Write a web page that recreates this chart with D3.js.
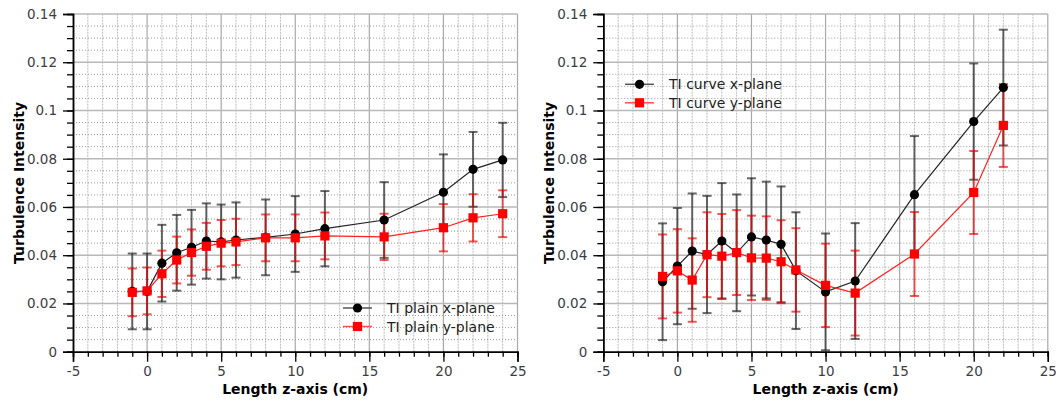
<!DOCTYPE html>
<html>
<head>
<meta charset="utf-8">
<script src="https://cdn.jsdelivr.net/npm/d3@7"></script>
<style>
  body { margin: 0; background: #fff; }
  svg { display: block; font-family: "DejaVu Sans", sans-serif; }
  .axis-title { font-size: 14px; font-weight: bold; fill: #000; }
  .legend-text { font-size: 14px; fill: #222; }
</style>
</head>
<body>
<div id="chart"></div>
<script>
/* === Turbulence intensity, plain vs curve (D3.js v7) === */

// z positions (cm)
var zPlain = [-1, 0, 1, 2, 3, 4, 5, 6, 8, 10, 12, 16, 20, 22, 24];
var zCurve = [-1, 0, 1, 2, 3, 4, 5, 6, 7, 8, 10, 12, 16, 20, 22];

// left panel: TI plain
var plainX    = [0.025, 0.025, 0.0367, 0.041, 0.0433, 0.0459, 0.0455, 0.0463, 0.0474, 0.0488, 0.051, 0.0546, 0.0661, 0.0756, 0.0795];
var plainXErr = [0.0157, 0.0157, 0.0159, 0.0157, 0.0155, 0.0156, 0.0155, 0.0156, 0.0157, 0.0157, 0.0156, 0.0157, 0.0157, 0.0155, 0.0154];
var plainY    = [0.0246, 0.0252, 0.0323, 0.038, 0.0411, 0.0437, 0.045, 0.0455, 0.0472, 0.0472, 0.048, 0.0476, 0.0514, 0.0555, 0.0572];
var plainYErr = [0.0099, 0.0097, 0.0096, 0.0097, 0.0096, 0.0097, 0.0096, 0.0096, 0.0097, 0.0097, 0.0097, 0.0096, 0.0098, 0.0098, 0.0097];

// right panel: TI curve
var curveX    = [0.029, 0.0355, 0.0417, 0.0403, 0.0459, 0.041, 0.0476, 0.0463, 0.0445, 0.0336, 0.0248, 0.0293, 0.0651, 0.0954, 0.1095];
var curveXErr = [0.0242, 0.0241, 0.0239, 0.0243, 0.024, 0.0242, 0.0243, 0.0242, 0.024, 0.0242, 0.0242, 0.024, 0.0243, 0.0241, 0.024];
var curveY    = [0.0312, 0.0335, 0.0297, 0.0402, 0.0396, 0.0411, 0.0389, 0.0388, 0.0373, 0.0339, 0.0275, 0.0243, 0.0405, 0.066, 0.0938];
var curveYErr = [0.0174, 0.0173, 0.0173, 0.0176, 0.0175, 0.0176, 0.0175, 0.0173, 0.0172, 0.0173, 0.0173, 0.0176, 0.0174, 0.0172, 0.0172];

var yTicks = [0, 0.02, 0.04, 0.06, 0.08, 0.1, 0.12, 0.14];
var xTicks = [-5, 0, 5, 10, 15, 20, 25];

var width = 1056, height = 403;

var svg = d3.select('#chart').append('svg')
    .attr('width', width)
    .attr('height', height);

function styleAxis(a) {
    a.attr('font-family', null).attr('font-size', null);
    a.selectAll('.domain').attr('stroke', '#000').attr('stroke-width', 1.5);
    a.selectAll('.tick line').attr('stroke', '#000').attr('stroke-width', 1.3);
    a.selectAll('.tick text')
        .style('font-family', '"DejaVu Sans", sans-serif')
        .style('font-size', '13.5px')
        .attr('fill', '#3c3c44');
}

function drawPanel(opts) {
    var g = svg.append('g');
    var x = d3.scaleLinear().domain([-5, 25]).range([opts.left, opts.left + 444.5]);
    var y = d3.scaleLinear().domain([0, 0.14]).range([351.7, 14]);

    // minor grid (dotted)
    var minorX = d3.range(-4, 25, 1).filter(function(v) { return v % 5 !== 0; });
    var minorY = d3.range(1, 28).map(function(i) { return i * 0.005; })
        .filter(function(v, i) { return (i + 1) % 4 !== 0; });

    g.append('g').selectAll('line')
        .data(minorX)
        .join('line')
        .attr('x1', function(d) { return x(d); })
        .attr('x2', function(d) { return x(d); })
        .attr('y1', y(0)).attr('y2', y(0.14))
        .attr('stroke', '#bbb')
        .attr('stroke-width', 1)
        .attr('stroke-dasharray', '2,1');

    g.append('g').selectAll('line')
        .data(minorY)
        .join('line')
        .attr('x1', x(-5)).attr('x2', x(25))
        .attr('y1', function(d) { return y(d); })
        .attr('y2', function(d) { return y(d); })
        .attr('stroke', '#999')
        .attr('stroke-width', 1)
        .attr('stroke-dasharray', '1,2');

    // major grid
    g.append('g').selectAll('line')
        .data(xTicks.slice(1))
        .join('line')
        .attr('x1', function(d) { return x(d); })
        .attr('x2', function(d) { return x(d); })
        .attr('y1', y(0)).attr('y2', y(0.14))
        .attr('stroke', '#a8a8a8')
        .attr('stroke-width', 1.2);

    g.append('g').selectAll('line')
        .data(yTicks.slice(1))
        .join('line')
        .attr('x1', x(-5)).attr('x2', x(25))
        .attr('y1', function(d) { return y(d); })
        .attr('y2', function(d) { return y(d); })
        .attr('stroke', '#b8b8b8')
        .attr('stroke-width', 1.4);

    // axes
    var xAxis = d3.axisBottom(x).tickValues(d3.range(-5, 26, 1))
        .tickSize(5).tickFormat('');
    var xAxisMajor = d3.axisBottom(x).tickValues(xTicks).tickSize(10)
        .tickFormat(function(d) { return d; });
    var yAxis = d3.axisLeft(y).tickValues(d3.range(0, 29).map(function(i) { return i * 0.005; }))
        .tickSize(6).tickFormat('');
    var yAxisMajor = d3.axisLeft(y).tickValues(yTicks).tickSize(10)
        .tickFormat(function(d) { return d === 0 ? '0' : d3.format('~g')(d); });

    [xAxis, xAxisMajor].forEach(function(ax) {
        var a = g.append('g').attr('transform', 'translate(0,' + y(0) + ')').call(ax);
        styleAxis(a);
        a.selectAll('.tick text').attr('dy', '0.71em').attr('y', 15);
    });
    [yAxis, yAxisMajor].forEach(function(ax) {
        var a = g.append('g').attr('transform', 'translate(' + x(-5) + ',0)').call(ax);
        styleAxis(a);
        a.selectAll('.tick text').attr('x', -16);
    });

    // titles
    g.append('text').attr('class', 'axis-title')
        .attr('x', x(10)).attr('y', 394)
        .attr('text-anchor', 'middle')
        .text('Length z-axis (cm)');
    g.append('text').attr('class', 'axis-title')
        .attr('transform', 'translate(' + (opts.left - 49) + ',' + y(0.07) + ') rotate(-90)')
        .attr('text-anchor', 'middle')
        .text('Turbulence Intensity');

    // series
    var series = [
        { vals: opts.xVals, err: opts.xErr, bar: 'rgba(40,40,40,0.7)', shape: 'circle', name: opts.names[0] },
        { vals: opts.yVals, err: opts.yErr, bar: 'rgba(225,0,0,0.65)', shape: 'square', name: opts.names[1] }
    ];

    series.forEach(function(s) {
        var pts = opts.z.map(function(z, i) { return { z: z, v: s.vals[i], e: s.err[i] }; });
        var eg = g.append('g');
        eg.selectAll('line.bar').data(pts).join('line')
            .attr('x1', function(d) { return x(d.z); }).attr('x2', function(d) { return x(d.z); })
            .attr('y1', function(d) { return y(d.v - d.e); }).attr('y2', function(d) { return y(d.v + d.e); })
            .attr('stroke', s.bar).attr('stroke-width', 2);
        [-1, 1].forEach(function(sign) {
            eg.append('g').selectAll('line').data(pts).join('line')
                .attr('x1', function(d) { return x(d.z) - 4.5; }).attr('x2', function(d) { return x(d.z) + 4.5; })
                .attr('y1', function(d) { return y(d.v + sign * d.e); })
                .attr('y2', function(d) { return y(d.v + sign * d.e); })
                .attr('stroke', s.bar).attr('stroke-width', 2);
        });
        s.pts = pts;
    });

    series.forEach(function(s) {
        var line = d3.line().x(function(d) { return x(d.z); }).y(function(d) { return y(d.v); });
        g.append('path').datum(s.pts)
            .attr('d', line)
            .attr('fill', 'none')
            .attr('stroke', s.shape === 'circle' ? '#222' : '#ff2020')
            .attr('stroke-width', 1.2);
        drawMarkers(g, s.pts.map(function(d) { return [x(d.z), y(d.v)]; }), s);
    });

    // legend
    var lg = g.append('g').attr('transform', 'translate(' + opts.legend[0] + ',' + opts.legend[1] + ')');
    series.forEach(function(s, i) {
        var yy = i * 18.5;
        lg.append('line').attr('x1', 0).attr('x2', 29).attr('y1', yy).attr('y2', yy)
            .attr('stroke', s.shape === 'circle' ? '#555' : '#ff5050').attr('stroke-width', 1.5);
        drawMarkers(lg, [[14.5, yy]], s);
        lg.append('text').attr('class', 'legend-text')
            .attr('x', 44).attr('y', yy).attr('dy', '0.36em')
            .text(s.name);
    });
}

function drawMarkers(g, pts, s) {
    if (s.shape === 'circle') {
        g.append('g').selectAll('circle').data(pts).join('circle')
            .attr('cx', function(d) { return d[0]; }).attr('cy', function(d) { return d[1]; })
            .attr('r', 4.6).attr('fill', '#000');
    } else {
        g.append('g').selectAll('rect').data(pts).join('rect')
            .attr('x', function(d) { return d[0] - 4.6; }).attr('y', function(d) { return d[1] - 4.6; })
            .attr('width', 9.2).attr('height', 9.2).attr('fill', '#ff0000');
    }
}

drawPanel({
    left: 73, z: zPlain,
    xVals: plainX, xErr: plainXErr, yVals: plainY, yErr: plainYErr,
    names: ['TI plain x-plane', 'TI plain y-plane'],
    legend: [343, 308]
});

drawPanel({
    left: 603.3, z: zCurve,
    xVals: curveX, xErr: curveXErr, yVals: curveY, yErr: curveYErr,
    names: ['TI curve x-plane', 'TI curve y-plane'],
    legend: [625, 84.3]
});
</script>
</body>
</html>
